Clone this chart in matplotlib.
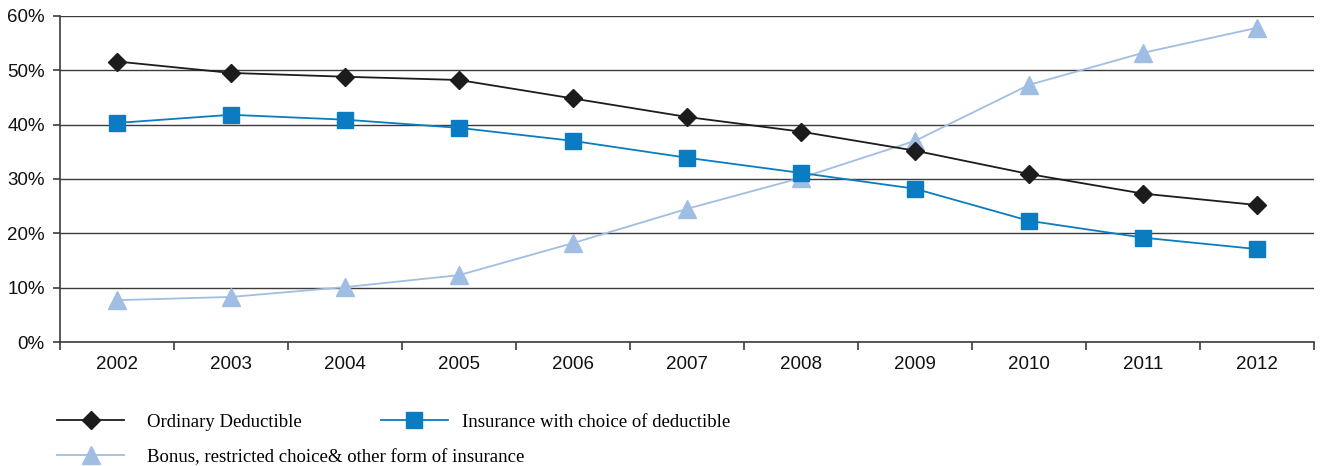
import matplotlib
matplotlib.use('Agg')
import matplotlib.pyplot as plt
from matplotlib.ticker import FuncFormatter, FixedLocator

# Share of insured by type of policy, 2002-2012 (%)
years = ['2002', '2003', '2004', '2005', '2006', '2007', '2008', '2009', '2010', '2011', '2012']
ordinary = [51.6, 49.5, 48.8, 48.2, 44.8, 41.4, 38.7, 35.2, 30.9, 27.3, 25.2]
choice = [40.3, 41.8, 40.9, 39.4, 37.0, 33.9, 31.1, 28.2, 22.3, 19.2, 17.1]
bonus = [7.7, 8.3, 10.1, 12.3, 18.2, 24.5, 30.2, 37.0, 47.3, 53.2, 57.8]

labels = ['Ordinary Deductible', 'Insurance with choice of deductible',
          'Bonus, restricted choice& other form of insurance']

C_ORD = '#1c1c1c'
C_CHO = '#0b7cc1'
C_BON = '#a0bee3'
GRID = '#3c3c3c'

fig = plt.figure(figsize=(13.22, 4.66), dpi=100)
ax = fig.add_axes([0.0454, 0.266, 0.9486, 0.700])

x = range(len(years))
l_ord, = ax.plot(x, ordinary, color=C_ORD, lw=1.3, marker='D', ms=9.5, zorder=4)
l_cho, = ax.plot(x, choice, color=C_CHO, lw=1.3, marker='s', ms=11.5, zorder=3)
l_bon, = ax.plot(x, bonus, color=C_BON, lw=1.3, marker='^', ms=12.5, zorder=2)

ax.set_xlim(-0.5, len(years) - 0.5)
ax.set_ylim(0, 60)
ax.set_yticks(range(0, 61, 10))
ax.yaxis.set_major_formatter(FuncFormatter(lambda v, _: f'{v:.0f}%'))
ax.set_xticks(list(x))
ax.set_xticklabels(years)
ax.xaxis.set_minor_locator(FixedLocator([i - 0.5 for i in range(len(years) + 1)]))

ax.grid(axis='y', color=GRID, lw=1.0)
ax.set_axisbelow(True)
for side in ['top', 'right']:
    ax.spines[side].set_visible(False)
for side in ['left', 'bottom']:
    ax.spines[side].set_color(GRID)
    ax.spines[side].set_linewidth(1.2)

ax.tick_params(axis='x', which='major', length=0, pad=10, labelsize=13.5, labelcolor='#111111')
ax.tick_params(axis='x', which='minor', length=6, direction='out', color=GRID, width=1.2)
ax.tick_params(axis='y', length=5, color=GRID, width=1.2, labelsize=13.5, labelcolor='#111111', pad=6)
for t in ax.get_xticklabels() + ax.get_yticklabels():
    t.set_family('Liberation Sans')

leg_kw = dict(frameon=False, handlelength=3.6,
              prop={'family': 'Liberation Serif', 'size': 13.5}, labelspacing=0.95,
              borderaxespad=0, borderpad=0)
fig.legend([l_ord, l_bon], [labels[0], labels[2]], loc='upper left',
           bbox_to_anchor=(0.043, 0.112), handletextpad=1.2, **leg_kw)
fig.legend([l_cho], [labels[1]], loc='upper left',
           bbox_to_anchor=(0.288, 0.112), handletextpad=0.75, **leg_kw)

fig.savefig('out.png', dpi=100)
